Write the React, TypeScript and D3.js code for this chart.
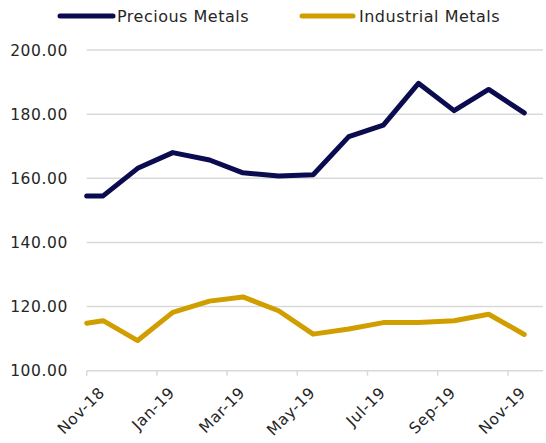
import React from "react";
import * as d3 from "d3";

const dates = [
  "2018-11-01", "2018-11-15", "2018-12-15", "2019-01-15", "2019-02-15", "2019-03-15",
  "2019-04-15", "2019-05-15", "2019-06-15", "2019-07-15", "2019-08-15", "2019-09-15",
  "2019-10-15", "2019-11-15",
];
const precious = [154.5, 154.5, 163.1, 168.0, 165.7, 161.7, 160.7, 161.1, 173.0, 176.6, 189.6, 181.1, 187.7, 180.4];
const industrial = [114.8, 115.6, 109.4, 118.2, 121.7, 123.0, 118.7, 111.4, 113.0, 115.0, 115.0, 115.6, 117.6, 111.3];
const seriesNames = ["Precious Metals", "Industrial Metals"];
const seriesColors = ["#0B0B4F", "#D19E00"];
const tickDates = ["2018-11-01", "2019-01-01", "2019-03-01", "2019-05-01", "2019-07-01", "2019-09-01", "2019-11-01"];
const yTicks = [100, 120, 140, 160, 180, 200];

const parse = d3.timeParse("%Y-%m-%d");
const fmt = d3.timeFormat("%b-%y");
const start = parse("2018-11-01")!;

// fractional month index since Nov-2018 (Excel-like evenly spaced months)
function monthIndex(d: Date): number {
  const m = d3.timeMonth.count(start, d3.timeMonth.floor(d));
  const mStart = d3.timeMonth.floor(d);
  const days = d3.timeDay.count(mStart, d3.timeMonth.offset(mStart, 1));
  return m + d3.timeDay.count(mStart, d) / days;
}

export default function App() {
  const W = 546, H = 443;
  const left = 86.7, right = 543, top = 50, bottom = 370.7;
  const x = d3.scaleLinear().domain([0, 13]).range([left, right]);
  const y = d3.scaleLinear().domain([100, 200]).range([bottom, top]);
  const pts = dates.map((s) => monthIndex(parse(s)!));
  const line = d3.line<[number, number]>().x((d) => x(d[0])).y((d) => y(d[1]));
  const data = [precious, industrial];
  const font = "DejaVu Sans, sans-serif";

  return (
    <div style={{ position: "absolute", left: 0, top: 0 }}>
      <svg width={W} height={H} style={{ display: "block", background: "#fff" }}>
        {yTicks.map((t) => (
          <g key={t}>
            {t !== 100 && (
              <line x1={left} x2={right} y1={y(t)} y2={y(t)} stroke="#d9d9d9" strokeWidth={1.5} />
            )}
            <text x={68} y={y(t)} dy="0.36em" textAnchor="end" fontFamily={font} fontSize={15.5} letterSpacing={0.6} fill="#262626">
              {d3.format(".2f")(t)}
            </text>
          </g>
        ))}
        <line x1={left} x2={right} y1={bottom} y2={bottom} stroke="#d9d9d9" strokeWidth={1.5} />
        {tickDates.map((s) => {
          const d = parse(s)!;
          const tx = x(monthIndex(d));
          return (
            <g key={s}>
              <line x1={tx} x2={tx} y1={bottom} y2={bottom + 5} stroke="#d9d9d9" strokeWidth={1.5} />
              <text
                transform={`translate(${tx + 15},${bottom + 19}) rotate(-45)`}
                textAnchor="end"
                dy="0.35em"
                fontFamily={font}
                fontSize={15.5}
                letterSpacing={0.6}
                fill="#262626"
              >
                {fmt(d)}
              </text>
            </g>
          );
        })}
        {data.map((vals, i) => (
          <path
            key={i}
            d={line(pts.map((p, j) => [p, vals[j]] as [number, number])) || ""}
            fill="none"
            stroke={seriesColors[i]}
            strokeWidth={5}
            strokeLinejoin="round"
            strokeLinecap="round"
          />
        ))}
        {/* legend */}
        {[
          { x1: 60, x2: 113, tx: 117 },
          { x1: 302, x2: 353, tx: 359 },
        ].map((l, i) => (
          <g key={i}>
            <line x1={l.x1} x2={l.x2} y1={16} y2={16} stroke={seriesColors[i]} strokeWidth={5} strokeLinecap="round" />
            <text x={l.tx} y={16} dy="0.36em" fontFamily={font} fontSize={16} letterSpacing={0.5} fill="#262626">
              {seriesNames[i]}
            </text>
          </g>
        ))}
      </svg>
    </div>
  );
}
